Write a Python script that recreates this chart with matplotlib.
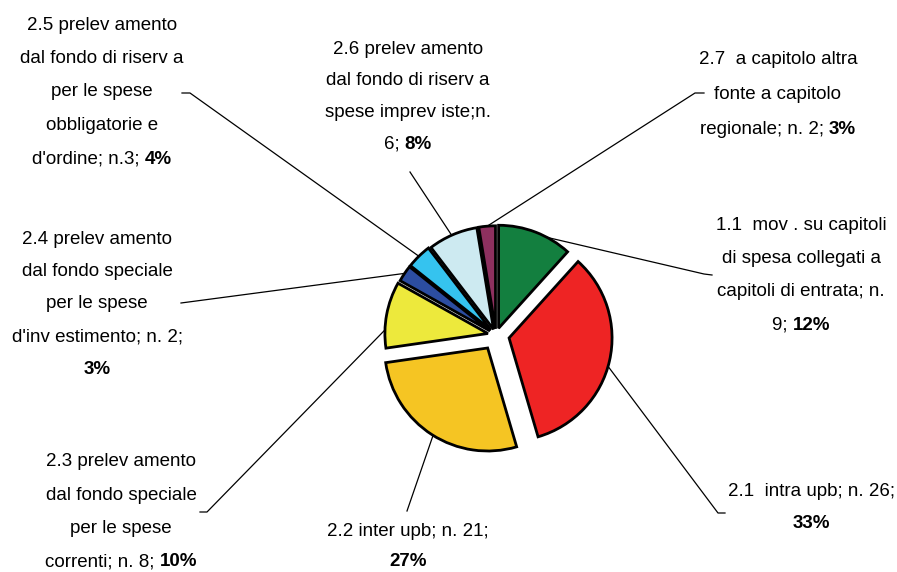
import numpy as np
import matplotlib
matplotlib.use("Agg")
import matplotlib.pyplot as plt

plt.rcParams['font.family'] = ['Liberation Sans', 'DejaVu Sans']

# ---- data ----
codes = ["1.1", "2.1", "2.2", "2.3", "2.4", "2.5", "2.6", "2.7"]
counts = [9, 26, 21, 8, 2, 3, 6, 2]
percents = ["12%", "33%", "27%", "10%", "3%", "4%", "8%", "3%"]
label_texts = [
    "1.1  mov . su capitoli\ndi spesa collegati a\ncapitoli di entrata; n.\n9; {p}",
    "2.1  intra upb; n. 26;\n{p}",
    "2.2 inter upb; n. 21;\n{p}",
    "2.3 prelev amento\ndal fondo speciale\nper le spese\ncorrenti; n. 8; {p}",
    "2.4 prelev amento\ndal fondo speciale\nper le spese\nd'inv estimento; n. 2;\n{p}",
    "2.5 prelev amento\ndal fondo di riserv a\nper le spese\nobbligatorie e\nd'ordine; n.3; {p}",
    "2.6 prelev amento\ndal fondo di riserv a\nspese imprev iste;n.\n6; {p}",
    "2.7  a capitolo altra\nfonte a capitolo\nregionale; n. 2; {p}",
]
colors = ["#137F3F", "#EE2424", "#F5C523", "#EDE93C", "#2C4DA1",
          "#35C3EF", "#CDEAF1", "#8D305F"]

# ---- layout (pixel coordinates, y measured from top) ----
W, H = 897, 572
center_px = (496, 335)
radius = 103
explode = [0.07, 0.13, 0.15, 0.08, 0.07, 0.07, 0.06, 0.06]
# (x centre, y centre of first line, line spacing)
text_pos = [(801, 223, 33.5), (811, 489, 32), (408, 529, 30), (121, 460, 33.3),
            (97, 237, 32.5), (102, 23, 33.5), (408, 47, 31.7), (778, 58, 34.5)]
anchor_deg = [62, -16, -122, -182, -214, -225.6, -246, -265.4]
line_ends = [[(704, 274), (712, 275)], [(718, 513), (725, 513)],
             [(407, 511)], [(207, 512), (200, 512)], [(181, 303)],
             [(190, 93), (182, 93)], [(410, 172)], [(695, 93), (704, 93)]]
FS = 13.5
BASE = 6.5  # baseline offset below line centre (px)

def py(y):
    return H - y

fig = plt.figure(figsize=(W / 100, H / 100), dpi=100)
ax = fig.add_axes([0, 0, 1, 1])
ax.set_xlim(0, W)
ax.set_ylim(0, H)
ax.set_aspect('equal')
ax.axis('off')

wedges, _ = ax.pie(counts, colors=colors, startangle=90, counterclock=False,
                   explode=[e * radius for e in explode], radius=radius,
                   center=(center_px[0], py(center_px[1])),
                   wedgeprops=dict(edgecolor='black', linewidth=2))
ax.set_xlim(0, W)
ax.set_ylim(0, H)

renderer = fig.canvas.get_renderer()

def width(s, weight='normal'):
    t = ax.text(0, 0, s, fontsize=FS, fontweight=weight)
    w = t.get_window_extent(renderer).width
    t.remove()
    return w

for i, w in enumerate(wedges):
    cx, cy = w.center
    a = np.deg2rad(anchor_deg[i])
    ax0, ay0 = cx + w.r * np.cos(a), cy + w.r * np.sin(a)
    xs = [ax0] + [p[0] for p in line_ends[i]]
    ys = [ay0] + [py(p[1]) for p in line_ends[i]]
    ax.plot(xs, ys, color='black', lw=0.9, zorder=0)

    xc, y0, sp = text_pos[i]
    for k, line in enumerate(label_texts[i].split('\n')):
        yb = py(y0 + k * sp + BASE)
        if '{p}' in line:
            pre = line.replace('{p}', '')
            pct = percents[i]
            if pre:
                w_pre = width(pre + 'x') - width('x')
            else:
                w_pre = 0
            w_pct = width(pct, 'bold')
            left = xc - (w_pre + w_pct) / 2
            if pre:
                ax.text(left, yb, pre, fontsize=FS, ha='left', va='baseline')
            ax.text(left + w_pre, yb, pct, fontsize=FS, fontweight='bold',
                    ha='left', va='baseline')
        else:
            ax.text(xc, yb, line, fontsize=FS, ha='center', va='baseline')

fig.savefig("out.png", dpi=100)
